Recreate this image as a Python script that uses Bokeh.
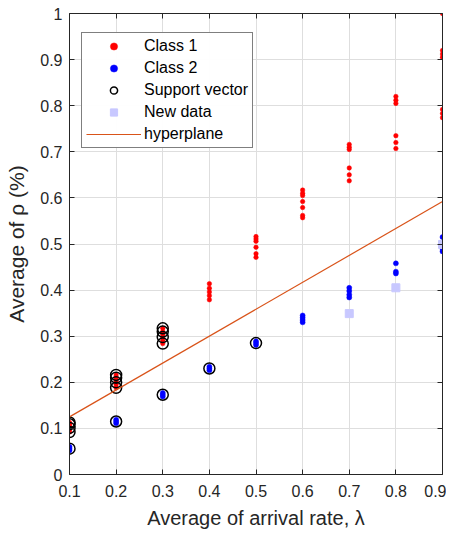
from bokeh.plotting import figure
from bokeh.models import Range1d, LinearAxis, FixedTicker, Legend, LegendItem
from bokeh.embed import file_html
from bokeh.resources import INLINE

# ---- data ----
c1_x = [0.1]*6 + [0.2]*6 + [0.3]*6 + [0.4]*5 + [0.5]*6 + [0.6]*7 + [0.7]*6 + [0.8]*6 + [0.9]*7
c1_y = [0.092, 0.097, 0.101, 0.105, 0.109, 0.113,
        0.188, 0.195, 0.200, 0.205, 0.210, 0.216,
        0.284, 0.291, 0.298, 0.304, 0.310, 0.317,
        0.379, 0.388, 0.396, 0.404, 0.414,
        0.471, 0.479, 0.493, 0.506, 0.511, 0.516,
        0.557, 0.562, 0.579, 0.592, 0.605, 0.610, 0.617,
        0.637, 0.650, 0.665, 0.705, 0.710, 0.716,
        0.707, 0.720, 0.735, 0.805, 0.812, 0.820,
        0.774, 0.783, 0.792, 0.905, 0.912, 0.920, 1.000]

c2_x = [0.1]*3 + [0.2]*3 + [0.3]*3 + [0.4]*3 + [0.5]*3 + [0.6]*4 + [0.7]*4 + [0.8]*3 + [0.9]*3
c2_y = [0.052, 0.056, 0.060,
        0.111, 0.115, 0.119,
        0.169, 0.173, 0.177,
        0.226, 0.230, 0.234,
        0.281, 0.285, 0.289,
        0.330, 0.335, 0.340, 0.345,
        0.384, 0.390, 0.398, 0.405,
        0.436, 0.440, 0.458,
        0.484, 0.490, 0.515]

sv_x = [0.1, 0.1, 0.1, 0.1, 0.2, 0.2, 0.2, 0.2, 0.3, 0.3, 0.3, 0.3, 0.1, 0.2, 0.3, 0.4, 0.5]
sv_y = [0.092, 0.101, 0.109, 0.113, 0.188, 0.200, 0.210, 0.216, 0.284, 0.298, 0.310, 0.317,
        0.056, 0.115, 0.173, 0.230, 0.285]

new_x = [0.7, 0.8, 0.9]
new_y = [0.349, 0.405, 0.499]

hp_x = [0.1, 0.9]
hp_y = [0.125, 0.592]

ticks_x = [0.1, 0.2, 0.3, 0.4, 0.5, 0.6, 0.7, 0.8, 0.9]
ticks_y = [0, 0.1, 0.2, 0.3, 0.4, 0.5, 0.6, 0.7, 0.8, 0.9, 1]
labels_y = {0: "0", 1: "1"}

FONT = "Liberation Sans"
AX = "#262626"

p = figure(frame_width=373, frame_height=461, output_backend="svg", toolbar_location=None,
           x_range=Range1d(0.1, 0.9), y_range=Range1d(0, 1),
           min_border_left=69, min_border_right=4, min_border_top=13, min_border_bottom=52,
           x_axis_label="Average of arrival rate, λ", y_axis_label="Average of ρ (%)")
p.outline_line_color = None
p.background_fill_color = "white"
p.border_fill_color = "white"

for ax, t in ((p.xaxis[0], ticks_x), (p.yaxis[0], ticks_y)):
    ax.ticker = FixedTicker(ticks=t)
    ax.major_tick_in = 5
    ax.major_tick_out = 0
    ax.minor_tick_line_color = None
    ax.axis_line_color = AX
    ax.major_tick_line_color = AX
    ax.major_label_text_font = FONT
    ax.major_label_text_font_size = "16px"
    ax.major_label_text_color = AX
    ax.axis_label_text_font = FONT
    ax.axis_label_text_font_style = "normal"
    ax.axis_label_text_color = AX
p.xaxis[0].axis_label_text_font_size = "20px"
p.yaxis[0].axis_label_text_font_size = "21px"
p.yaxis[0].major_label_overrides = labels_y
p.xaxis[0].major_label_standoff = 10
p.xaxis[0].axis_label_standoff = 7
p.yaxis[0].major_label_standoff = 7
p.yaxis[0].axis_label_standoff = 9

for side, t in (("above", ticks_x), ("right", ticks_y)):
    a = LinearAxis(ticker=FixedTicker(ticks=t), major_tick_in=5, major_tick_out=0,
                   minor_tick_line_color=None, axis_line_color=AX, major_tick_line_color=AX,
                   major_label_text_font_size="0px", major_label_standoff=0)
    p.add_layout(a, side)

p.grid.grid_line_color = "#dedede"
p.xgrid.ticker = FixedTicker(ticks=ticks_x)
p.ygrid.ticker = FixedTicker(ticks=ticks_y)

r_c1 = p.scatter(c1_x, c1_y, marker="circle", size=4.5, fill_color="#ff0000", line_color="#ff0000", line_width=0.5)
r_c2 = p.scatter(c2_x, c2_y, marker="circle", size=5, fill_color="#0000ff", line_color="#0000ff", line_width=0.5)
r_sv = p.scatter(sv_x, sv_y, marker="circle", size=11, fill_color=None, line_color="black", line_width=1.5)
r_new = p.scatter(new_x, new_y, marker="square", size=8, fill_color="#c8c8ff", line_color="#c8c8ff")
r_hp = p.line(hp_x, hp_y, line_color="#D95319", line_width=1.2)

legend = Legend(items=[LegendItem(label="Class 1", renderers=[r_c1]),
                       LegendItem(label="Class 2", renderers=[r_c2]),
                       LegendItem(label="Support vector", renderers=[r_sv]),
                       LegendItem(label="New data", renderers=[r_new]),
                       LegendItem(label="hyperplane", renderers=[r_hp])],
                location=(12, 326))
legend.border_line_color = "black"
legend.border_line_width = 1
legend.label_text_font = FONT
legend.label_text_font_size = "16px"
legend.label_text_color = "black"
legend.glyph_width = 55
legend.glyph_height = 18
legend.label_height = 18
legend.label_standoff = 3
legend.spacing = 4
legend.padding = 4
legend.margin = 0
p.add_layout(legend, "center")

open("out.html", "w").write(file_html(p, INLINE))
